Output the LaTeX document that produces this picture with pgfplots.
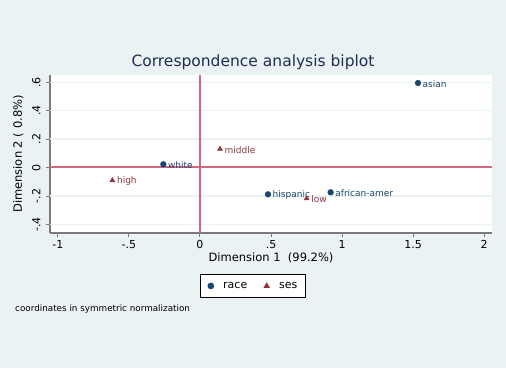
\documentclass[border=0pt]{standalone}
\usepackage{pgfplots}
\pgfplotsset{compat=1.18}
\usepackage{fontspec}
\setmainfont{DejaVu Sans}
\definecolor{bgcol}{HTML}{EAF2F3}
\definecolor{gridcol}{HTML}{EAF2F3}
\definecolor{racecol}{HTML}{1A476F}
\definecolor{sescol}{HTML}{90353B}
\definecolor{refcol}{HTML}{D5667F}
\definecolor{titlecol}{HTML}{1E2D53}
\definecolor{axcol}{HTML}{7A7A7A}
\begin{document}
\begin{tikzpicture}
\fill[bgcol] (0,0) rectangle (506pt,368pt);
\node[font=\fontsize{15.5}{18}\selectfont, text=titlecol] at (253pt,306pt) {Correspondence analysis biplot};
\node[font=\fontsize{8.8}{10}\selectfont, anchor=west, inner sep=0pt] at (15pt,59pt) {coordinates in symmetric normalization};
\begin{axis}[
  at={(50pt,135pt)}, anchor=south west,
  scale only axis, width=442pt, height=158pt,
  xmin=-1.056, xmax=2.056, ymin=-0.46, ymax=0.651,
  axis background/.style={fill=white},
  axis x line*=bottom, axis y line*=left,
  axis line style={-, draw=axcol, line width=1.3pt},
  tick align=outside, major tick length=4pt,
  tick style={draw=axcol, line width=1pt},
  xtick={-1,-0.5,0,0.5,1,1.5,2},
  xticklabels={-1,-.5,0,.5,1,1.5,2},
  ytick={-0.4,-0.2,0,0.2,0.4,0.6},
  yticklabels={-.4,-.2,0,.2,.4,.6},
  yticklabel style={rotate=90, anchor=south, yshift=2pt},
  ticklabel style={font=\fontsize{11}{12}\selectfont},
  xlabel={Dimension 1\ \ (99.2\%)},
  ylabel={Dimension 2\ ( 0.8\%)},
  label style={font=\fontsize{11.5}{12}\selectfont},
  xlabel style={yshift=3pt},
  ylabel style={yshift=2pt},
  legend columns=2,
  legend image code/.code={\draw[#1] plot coordinates {(4pt,0pt)}; \path (0pt,0pt) (14pt,0pt);},
  legend style={at={(0.459,-0.335)}, anchor=center, draw=black, fill=white,
    font=\fontsize{11}{12}\selectfont, line width=0.8pt,
    inner xsep=6pt, inner ysep=6pt,
    /tikz/every even column/.append style={column sep=13pt}},
  clip=false,
]
\addplot[gridcol, line width=1.5pt, forget plot] coordinates {(-1.056,-0.4) (2.056,-0.4)};
\addplot[gridcol, line width=1.5pt, forget plot] coordinates {(-1.056,-0.2) (2.056,-0.2)};
\addplot[gridcol, line width=1.5pt, forget plot] coordinates {(-1.056,0.2) (2.056,0.2)};
\addplot[gridcol, line width=1.5pt, forget plot] coordinates {(-1.056,0.4) (2.056,0.4)};
\addplot[gridcol, line width=1.5pt, forget plot] coordinates {(-1.056,0.6) (2.056,0.6)};
\addplot[draw=refcol, line width=1.6pt, mark=none, forget plot] coordinates {(0,-0.46) (0,0.651)};
\addplot[draw=refcol, line width=2pt, mark=none, forget plot] coordinates {(-1.056,0.001) (0,0.001) (2.056,0.001)};
\addplot[only marks, mark=*, mark size=2.9pt, color=racecol,
  nodes near coords, point meta=explicit symbolic,
  every node near coord/.style={anchor=west, inner sep=0pt, xshift=4.5pt, yshift=-1pt, font=\fontsize{9}{10}\selectfont, text=racecol}]
  table[meta=label] {
x y label
-0.258 0.023 white
0.479 -0.188 hispanic
0.920 -0.174 african-amer
1.535 0.595 asian
};
\addlegendentry{race}
\addplot[only marks, mark=triangle*, mark size=2.9pt, color=sescol,
  nodes near coords, point meta=explicit symbolic,
  every node near coord/.style={anchor=west, inner sep=0pt, xshift=4.5pt, yshift=-1pt, font=\fontsize{9}{10}\selectfont, text=sescol}]
  table[meta=label] {
x y label
-0.617 -0.090 high
0.141 0.131 middle
0.751 -0.217 low
};
\addlegendentry{ses}
\end{axis}
\end{tikzpicture}
\end{document}
